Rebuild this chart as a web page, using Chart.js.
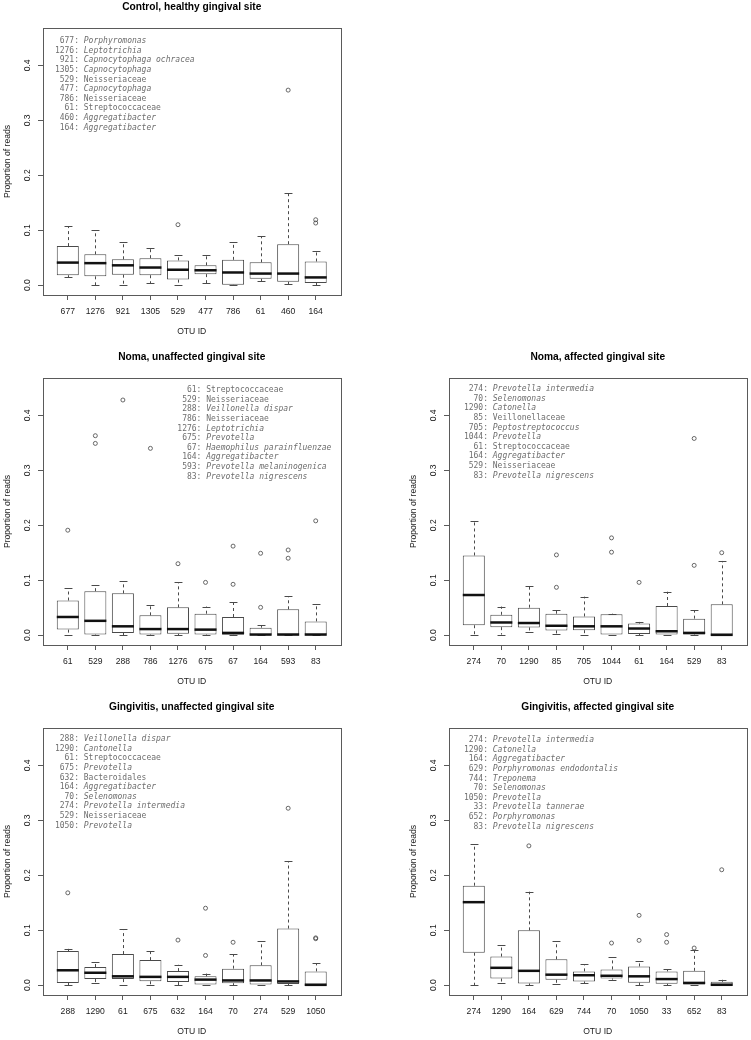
<!DOCTYPE html>
<html><head><meta charset="utf-8">
<script src="https://cdn.jsdelivr.net/npm/chart.js@4.4.1/dist/chart.umd.min.js"></script>
<style>
html,body{margin:0;padding:0;background:#fff;overflow:hidden;width:751px;height:1040px;}
canvas{position:absolute;}
</style></head><body>
<canvas id="c1" width="345" height="340" style="left:0px;top:0px"></canvas>
<canvas id="c2" width="345" height="340" style="left:0px;top:350px"></canvas>
<canvas id="c3" width="345" height="340" style="left:406px;top:350px"></canvas>
<canvas id="c4" width="345" height="340" style="left:0px;top:700px"></canvas>
<canvas id="c5" width="345" height="340" style="left:406px;top:700px"></canvas>
<script>
// ---------- shared tick labels ----------
const yTickValues = [0, 0.1, 0.2, 0.3, 0.4];
const yTickLabels = ['0.0', '0.1', '0.2', '0.3', '0.4'];

// ---------- Panel 1: Control, healthy gingival site ----------
const p1Title = 'Control, healthy gingival site';
const p1Categories = ['677','1276','921','1305','529','477','786','61','460','164'];
const p1Lower  = [0.014,0.0,0.001,0.003,0.0,0.003,0.0,0.007,0.002,0.0];
const p1Q1     = [0.018,0.016,0.019,0.018,0.010,0.020,0.0005,0.0115,0.006,0.004];
const p1Median = [0.041,0.040,0.036,0.032,0.028,0.027,0.023,0.021,0.021,0.014];
const p1Q3     = [0.071,0.056,0.047,0.049,0.045,0.036,0.046,0.0415,0.0745,0.043];
const p1Upper  = [0.107,0.0995,0.079,0.067,0.054,0.054,0.078,0.0885,0.167,0.062];
const p1Outliers = [[],[],[],[],[0.110],[],[],[],[0.355],[0.119,0.113]];
const p1Names = ['Porphyromonas','Leptotrichia','Capnocytophaga ochracea','Capnocytophaga','Neisseriaceae','Capnocytophaga','Neisseriaceae','Streptococcaceae','Aggregatibacter','Aggregatibacter'];

// ---------- Panel 2: Noma, unaffected gingival site ----------
const p2Title = 'Noma, unaffected gingival site';
const p2Categories = ['61','529','288','786','1276','675','67','164','593','83'];
const p2Lower  = [0.001,0,0,0,0,0,0,0,0,0];
const p2Q1     = [0.010,0.001,0.004,0.001,0.0025,0.001,0.0005,0.0005,0,0];
const p2Median = [0.033,0.026,0.016,0.011,0.011,0.010,0.004,0.001,0.001,0.001];
const p2Q3     = [0.063,0.080,0.076,0.036,0.0505,0.039,0.033,0.0135,0.047,0.025];
const p2Upper  = [0.085,0.091,0.098,0.054,0.096,0.052,0.060,0.018,0.071,0.056];
const p2Outliers = [[0.191],[0.363,0.349],[0.428],[0.340],[0.130],[0.096],[0.162,0.0925],[0.149,0.0505],[0.155,0.140],[0.208]];
const p2Names = ['Streptococcaceae','Neisseriaceae','Veillonella dispar','Neisseriaceae','Leptotrichia','Prevotella','Haemophilus parainfluenzae','Aggregatibacter','Prevotella melaninogenica','Prevotella nigrescens'];

// ---------- Panel 3: Noma, affected gingival site ----------
const p3Title = 'Noma, affected gingival site';
const p3Categories = ['274','70','1290','85','705','1044','61','164','529','83'];
const p3Lower  = [0,0.001,0.006,0.002,0.001,0,0,0,0,0];
const p3Q1     = [0.018,0.0145,0.014,0.0085,0.009,0,0.002,0,0.001,0];
const p3Median = [0.073,0.023,0.022,0.017,0.016,0.016,0.012,0.007,0.004,0.0005];
const p3Q3     = [0.145,0.037,0.050,0.039,0.034,0.038,0.021,0.053,0.030,0.056];
const p3Upper  = [0.207,0.052,0.090,0.045,0.070,0.039,0.024,0.079,0.045,0.135];
const p3Outliers = [[],[],[],[0.146,0.087],[],[0.177,0.151],[0.096],[],[0.358,0.127],[0.150]];
const p3Names = ['Prevotella intermedia','Selenomonas','Catonella','Veillonellaceae','Peptostreptococcus','Prevotella','Streptococcaceae','Aggregatibacter','Neisseriaceae','Prevotella nigrescens'];

// ---------- Panel 4: Gingivitis, unaffected gingival site ----------
const p4Title = 'Gingivitis, unaffected gingival site';
const p4Categories = ['288','1290','61','675','632','164','70','274','529','1050'];
const p4Lower  = [0,0.004,0,0,0,0,0,0,0,0];
const p4Q1     = [0.004,0.011,0.011,0.007,0.0055,0,0.0035,0,0.002,0];
const p4Median = [0.027,0.0225,0.016,0.015,0.015,0.010,0.0085,0.0085,0.0067,0.0005];
const p4Q3     = [0.062,0.033,0.0565,0.0455,0.0255,0.016,0.030,0.036,0.103,0.025];
const p4Upper  = [0.066,0.042,0.102,0.062,0.037,0.021,0.056,0.080,0.226,0.040];
const p4Outliers = [[0.168],[],[],[],[0.082],[0.140,0.054],[0.078],[],[0.322],[0.086,0.0845]];
const p4Names = ['Veillonella dispar','Cantonella','Streptococcaceae','Prevotella','Bacteroidales','Aggregatibacter','Selenomonas','Prevotella intermedia','Neisseriaceae','Prevotella'];

// ---------- Panel 5: Gingivitis, affected gingival site ----------
const p5Title = 'Gingivitis, affected gingival site';
const p5Categories = ['274','1290','164','629','744','70','1050','33','652','83'];
const p5Lower  = [0,0.004,0,0.002,0.003,0.010,0,0,0,0];
const p5Q1     = [0.059,0.012,0.003,0.0097,0.0067,0.012,0.0043,0.0025,0,0];
const p5Median = [0.151,0.0315,0.026,0.019,0.018,0.017,0.016,0.011,0.004,0.0006];
const p5Q3     = [0.181,0.052,0.0997,0.047,0.025,0.0286,0.034,0.025,0.026,0.006];
const p5Upper  = [0.2565,0.0735,0.170,0.080,0.038,0.051,0.0438,0.0286,0.064,0.0097];
const p5Outliers = [[],[],[0.2535],[],[],[0.0766],[0.127,0.0815],[0.092,0.078],[0.0675],[0.210]];
const p5Names = ['Prevotella intermedia','Catonella','Aggregatibacter','Porphyromonas endodontalis','Treponema','Selenomonas','Prevotella','Prevotella tannerae','Porphyromonas','Prevotella nigrescens'];

// ---------- styling ----------
const SANS = '"Liberation Sans", Arial, Helvetica, sans-serif';
const MONO = '"DejaVu Sans Mono", "Liberation Mono", monospace';
const LINE = '#4a4a4a';
const FRAME = '#5a5a5a';

function makePanel(id, title, cats, lower, q1, median, q3, upper, outliers, names, legend) {
  const boxData = cats.map((c, i) => ({ x: i + 1, y: [q1[i], q3[i]] }));
  const outData = [];
  outliers.forEach((arr, i) => arr.forEach(v => outData.push({ x: i + 1, y: v })));

  const extras = {
    id: 'boxExtras_' + id,
    afterLayout(chart) {
      // centre the title above the plotting frame
      const tb = chart.titleBlock;
      if (tb) { tb.left = chart.chartArea.left; tb.right = chart.chartArea.right; tb.width = tb.right - tb.left; }
    },
    afterDatasetsDraw(chart) {
      const ctx = chart.ctx, ys = chart.scales.y;
      const meta = chart.getDatasetMeta(0);
      ctx.save();
      meta.data.forEach((bar, i) => {
        const p = bar.getProps(['x', 'width'], true);
        const cx = Math.round(p.x) + 0.5;
        const half = p.width / 2;
        const cap = p.width * 0.18;
        const yLo = ys.getPixelForValue(lower[i]), yQ1 = ys.getPixelForValue(q1[i]);
        const yQ3 = ys.getPixelForValue(q3[i]), yHi = ys.getPixelForValue(upper[i]);
        const yMed = ys.getPixelForValue(median[i]);
        ctx.strokeStyle = LINE; ctx.lineWidth = 1;
        ctx.setLineDash([3, 3]);
        ctx.beginPath();
        ctx.moveTo(cx, yQ3); ctx.lineTo(cx, yHi);
        ctx.moveTo(cx, yQ1); ctx.lineTo(cx, yLo);
        ctx.stroke();
        ctx.setLineDash([]);
        ctx.beginPath();
        ctx.moveTo(cx - cap, Math.round(yHi) + 0.5); ctx.lineTo(cx + cap, Math.round(yHi) + 0.5);
        ctx.moveTo(cx - cap, Math.round(yLo) + 0.5); ctx.lineTo(cx + cap, Math.round(yLo) + 0.5);
        ctx.stroke();
        ctx.strokeStyle = '#111'; ctx.lineWidth = 2.5;
        ctx.beginPath();
        ctx.moveTo(p.x - half, yMed); ctx.lineTo(p.x + half, yMed);
        ctx.stroke();
      });
      ctx.restore();
    },
    afterDraw(chart) {
      const ctx = chart.ctx, a = chart.chartArea;
      ctx.save();
      ctx.strokeStyle = FRAME; ctx.lineWidth = 1;
      ctx.strokeRect(Math.round(a.left) + 0.5, Math.round(a.top) + 0.5, Math.round(a.right - a.left), Math.round(a.bottom - a.top));
      // OTU legend text
      ctx.fillStyle = '#6e6e6e';
      ctx.textBaseline = 'middle';
      cats.forEach((c, i) => {
        const yy = a.top + legend.y + i * legend.step;
        const xx = a.left + legend.x;
        ctx.font = '8px ' + MONO;
        ctx.textAlign = 'right';
        ctx.fillText(c + ':', xx, yy);
        const family = /(aceae|ales)$/.test(names[i]);
        ctx.font = (family ? '' : 'italic ') + '8px ' + MONO;
        ctx.textAlign = 'left';
        ctx.fillText(names[i], xx + 4.8, yy);
      });
      ctx.restore();
    }
  };

  return new Chart(document.getElementById(id), {
    type: 'bar',
    data: {
      datasets: [
        {
          type: 'bar', data: boxData,
          backgroundColor: '#ffffff', borderColor: LINE, borderWidth: 1,
          borderSkipped: false, barPercentage: 0.8, categoryPercentage: 1.0
        },
        {
          type: 'scatter', data: outData,
          pointRadius: 2, pointHoverRadius: 2, pointBorderWidth: 0.8,
          pointBorderColor: '#444', pointBackgroundColor: 'rgba(0,0,0,0)', showLine: false
        }
      ]
    },
    options: {
      responsive: false, animation: false, events: [],
      layout: { padding: { left: 0, top: 0, right: 4.5, bottom: 0 } },
      plugins: {
        legend: { display: false }, tooltip: { enabled: false },
        title: {
          display: true, text: title, color: '#000',
          font: { family: SANS, size: 10.2, weight: 'bold' },
          padding: { top: 1.4, bottom: 14.4 }
        }
      },
      scales: {
        x: {
          type: 'linear', min: 0.1, max: 10.9, offset: false,
          afterBuildTicks: axis => { axis.ticks = cats.map((c, i) => ({ value: i + 1 })); },
          afterFit: s => { s.height = 45; },
          ticks: {
            callback: (v, i) => cats[i], autoSkip: false, maxRotation: 0,
            padding: 6, color: '#222', font: { family: SANS, size: 8.6 }
          },
          grid: { display: true, offset: false, drawOnChartArea: false, drawTicks: true, tickLength: 5, color: FRAME },
          border: { display: false },
          title: { display: true, text: 'OTU ID', color: '#222', font: { family: SANS, size: 8.6 }, padding: { top: 0, bottom: 2.8 } }
        },
        y: {
          type: 'linear', min: -0.018, max: 0.468,
          afterBuildTicks: axis => { axis.ticks = yTickValues.map(v => ({ value: v })); },
          afterFit: s => { s.width = 43; },
          ticks: {
            callback: (v, i) => yTickLabels[i], minRotation: 90, maxRotation: 90,
            crossAlign: 'center', padding: 4.7, color: '#222', font: { family: SANS, size: 8.6 }
          },
          grid: { display: true, drawOnChartArea: false, drawTicks: true, tickLength: 5, color: FRAME },
          border: { display: false },
          title: { display: true, text: 'Proportion of reads', color: '#222', font: { family: SANS, size: 8.6 }, padding: { top: 2.1, bottom: 0 } }
        }
      }
    },
    plugins: [extras]
  });
}

makePanel('c1', p1Title, p1Categories, p1Lower, p1Q1, p1Median, p1Q3, p1Upper, p1Outliers, p1Names, { x: 36, y: 13, step: 9.6 });
makePanel('c2', p2Title, p2Categories, p2Lower, p2Q1, p2Median, p2Q3, p2Upper, p2Outliers, p2Names, { x: 158.4, y: 12, step: 9.6 });
makePanel('c3', p3Title, p3Categories, p3Lower, p3Q1, p3Median, p3Q3, p3Upper, p3Outliers, p3Names, { x: 39, y: 11, step: 9.6 });
makePanel('c4', p4Title, p4Categories, p4Lower, p4Q1, p4Median, p4Q3, p4Upper, p4Outliers, p4Names, { x: 36, y: 11, step: 9.6 });
makePanel('c5', p5Title, p5Categories, p5Lower, p5Q1, p5Median, p5Q3, p5Upper, p5Outliers, p5Names, { x: 39, y: 12, step: 9.6 });
</script>
</body></html>
